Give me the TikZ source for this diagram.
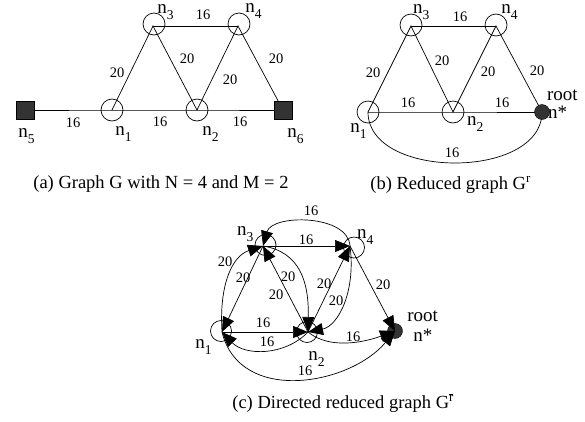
\documentclass[tikz,border=0pt]{standalone}
\usepackage{fontspec}
\setmainfont{Liberation Serif}
\usetikzlibrary{arrows.meta}
\definecolor{termgray}{HTML}{333333}
\newcommand\nn[1]{n\raisebox{-6pt}{\fontsize{13.5}{13.5}\selectfont #1}}
\begin{document}
\begin{tikzpicture}[x=1pt,y=-1pt, line width=0.7pt,
  vtx/.style={circle,draw,minimum size=22pt,inner sep=0pt},
  term/.style={rectangle,fill=termgray,draw=black,line width=0.5pt,minimum size=18.5pt,inner sep=0pt},
  rootdot/.style={circle,fill=termgray,draw=black,line width=0.4pt,minimum size=15pt,inner sep=0pt},
  lab/.style={font=\fontsize{19}{19}\selectfont, inner sep=0pt, anchor=base west, text height=11pt, text depth=8pt},
  elab/.style={font=\fontsize{14.5}{14.5}\selectfont, inner sep=0pt},
  captxt/.style={font=\fontsize{18.5}{18.5}\selectfont, inner sep=0pt, anchor=base west},
  arr/.style={-{Triangle[length=15pt,width=12pt]}},
]
\useasboundingbox (0,0) rectangle (585,421);

% ---------------- (a) ----------------
\coordinate (a1) at (112,110);
\coordinate (a2) at (197,110);
\coordinate (a3) at (153,26);
\coordinate (a4) at (238,26);
\coordinate (a5) at (25,110);
\coordinate (a6) at (283,110);
\node[vtx] (ca1) at (a1) {};
\node[vtx] (ca2) at (a2) {};
\node[vtx] (ca3) at (154,24) {};
\node[vtx] (ca4) at (239,24) {};
\draw (a5) -- (a1) -- (a2) -- (a6);
\draw (a3) -- (a4);
\draw (a1) -- (a3) -- (a2) -- (a4) -- (a6);
\node[term] (sq5) at (a5) {};
\node[term] (sq6) at (a6) {};
\node[lab] (la3) at (157,13) {\nn{3}};
\node[lab] (la4) at (245,12.5) {\nn{4}};
\node[lab] (la5) at (18,137) {\nn{5}};
\node[lab] (la1) at (115,135) {\nn{1}};
\node[lab] (la2) at (202,135) {\nn{2}};
\node[lab] (la6) at (287,137) {\nn{6}};
\node[elab] (ea1) at (203,15) {16};
\node[elab] (ea2) at (117,73) {20};
\node[elab] (ea3) at (187,59) {20};
\node[elab] (ea4) at (230,80) {20};
\node[elab] (ea5) at (276,59) {20};
\node[elab] (ea6) at (73,123) {16};
\node[elab] (ea7) at (160,122) {16};
\node[elab] (ea8) at (240,122) {16};
\node[captxt] (capa) at (33,188) {(a) Graph G with N = 4 and M = 2};

% ---------------- (b) ----------------
\coordinate (b1) at (368,112);
\coordinate (b2) at (453,112);
\coordinate (b3) at (411,26);
\coordinate (b4) at (496,26);
\coordinate (br) at (542,112);
\node[vtx] (cb1) at (b1) {};
\node[vtx] (cb2) at (b2) {};
\node[vtx] (cb3) at (411,25) {};
\node[vtx] (cb4) at (496,25) {};
\draw (b1) -- (b2) -- (br);
\draw (b3) -- (b4);
\draw (b1) -- (b3) -- (b2) -- (b4) -- (br);
\draw (b1) .. controls (368,180) and (542,180) .. (br);
\node[rootdot] (rb) at (br) {};
\node[lab] (lb3) at (412.7,13) {\nn{3}};
\node[lab] (lb4) at (501,13) {\nn{4}};
\node[lab] (lb1) at (350,132.7) {\nn{1}};
\node[lab] (lb2) at (466.7,125) {\nn{2}};
\node[lab] (lbr) at (546.7,100) {root};
\node[lab] (lbs) at (547.7,118.3) {n*};
\node[elab] (eb1) at (373,73) {20};
\node[elab] (eb2) at (442,61) {20};
\node[elab] (eb3) at (488,72) {20};
\node[elab] (eb4) at (537,71) {20};
\node[elab] (eb5) at (460,17) {16};
\node[elab] (eb6) at (408,103) {16};
\node[elab] (eb7) at (502,103) {16};
\node[elab] (eb8) at (452,153) {16};
\node[captxt] (capb) at (370,189) {(b) Reduced graph G\textsuperscript{r}};

% ---------------- (c) ----------------
\coordinate (c1) at (222,332);
\coordinate (c2) at (308,332);
\coordinate (c3) at (263,246);
\coordinate (c4) at (350,246);
\coordinate (cr) at (395,331);
\node[vtx,minimum size=21pt] (cc1) at (221,331) {};
\node[vtx,minimum size=21pt] (cc2) at (307,332) {};
\node[vtx,minimum size=21pt] (cc3) at (265.5,245) {};
\node[vtx,minimum size=21pt] (cc4) at (354,247.5) {};
\node[rootdot] (rc) at (cr) {};
\draw[arr] (c3) -- (c4);
\draw[arr] (c4) .. controls (348,214) and (272,214) .. (c3);
\draw[arr] (c4) -- (cr);
\draw[arr] (c1) .. controls (219,285) and (232,256) .. (c3);
\draw[arr] (c3) -- (c1);
\draw[arr] (c3) .. controls (300,252) and (309,282) .. (c2);
\draw[arr] (c2) -- (c3);
\draw[arr] (c2) -- (c4);
\draw[arr] (c4) .. controls (356,292) and (338,326) .. (c2);
\draw[arr] (c1) -- (c2);
\draw[arr] (c2) .. controls (285,356) and (245,356) .. (c1);
\draw[arr] (c2) .. controls (330,350) and (365,342) .. (cr);
\draw[arr] (c1) .. controls (240,405) and (350,385) .. (cr);
\node[lab] (lc3) at (236.7,235) {\nn{3}};
\node[lab] (lc4) at (356.7,238) {\nn{4}};
\node[lab] (lc1) at (195,348) {\nn{1}};
\node[lab] (lc2) at (308,360) {\nn{2}};
\node[lab] (lcr) at (407,321.5) {root};
\node[lab] (lcs) at (413,341.5) {n*};
\node[elab] (ec1) at (311,211) {16};
\node[elab] (ec2) at (306,240) {16};
\node[elab] (ec3) at (225,262) {20};
\node[elab] (ec4) at (243,278) {20};
\node[elab] (ec5) at (288,277) {20};
\node[elab] (ec6) at (276,295) {20};
\node[elab] (ec7) at (324,284) {20};
\node[elab] (ec8) at (336,301) {20};
\node[elab] (ec9) at (383,285) {20};
\node[elab] (ec10) at (263,323) {16};
\node[elab] (ec11) at (267,342) {16};
\node[elab] (ec12) at (353,336.5) {16};
\node[elab] (ec13) at (305,371) {16};
\node[captxt] (capc) at (232,408) {(c) Directed reduced graph G\textsuperscript{$\overline{\mbox{r}}$}};
\end{tikzpicture}
\end{document}
